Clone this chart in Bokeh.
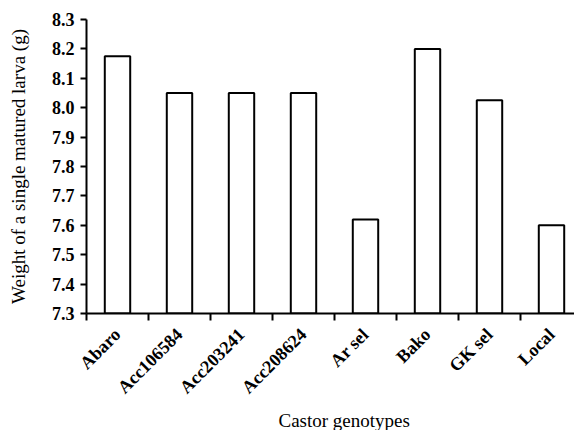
import math
from bokeh.plotting import figure
from bokeh.models import Range1d, FixedTicker, PrintfTickFormatter, ColumnDataSource, Title
from bokeh.embed import file_html
from bokeh.resources import INLINE

categories = ["Abaro", "Acc106584", "Acc203241", "Acc208624", "Ar sel", "Bako", "GK sel", "Local"]
weights = [8.175, 8.05, 8.05, 8.05, 7.62, 8.2, 8.025, 7.6]
y_ticks = [7.3, 7.4, 7.5, 7.6, 7.7, 7.8, 7.9, 8.0, 8.1, 8.2, 8.3]

x_pos = [i + 0.5 for i in range(len(categories))]
boundaries = [float(i) for i in range(len(categories))]

src = ColumnDataSource(dict(x=x_pos, top=weights, name=categories))

p = figure(width=574, height=430, output_backend="svg", toolbar_location=None,
           x_range=Range1d(0, 488 / 62), y_range=Range1d(7.3, 8.3),
           min_border_left=86, min_border_right=0, min_border_top=19, min_border_bottom=115)
p.outline_line_color = None
p.grid.visible = False
p.background_fill_color = "white"
p.border_fill_color = "white"

p.vbar(x="x", top="top", bottom=7.3, width=0.41, source=src,
       fill_color="white", line_color="black", line_width=2)

FONT = "Liberation Serif"

# x axis
xa = p.xaxis[0]
xa.ticker = FixedTicker(ticks=x_pos, minor_ticks=boundaries)
xa.major_label_overrides = {x: c for x, c in zip(x_pos, categories)}
xa.major_tick_out = 0
xa.major_tick_in = 0
xa.minor_tick_out = 7
xa.minor_tick_in = 0
xa.minor_tick_line_width = 2
xa.minor_tick_line_color = "black"
xa.axis_line_width = 2
xa.axis_line_color = "black"
xa.major_label_orientation = math.pi / 4
xa.major_label_text_font = FONT
xa.major_label_text_font_style = "bold"
xa.major_label_text_font_size = "18px"
xa.major_label_text_color = "black"
xa.major_label_standoff = 11

x_title = Title(text="Castor genotypes", align="left", offset=192, standoff=0,
                text_font=FONT, text_font_style="normal", text_font_size="19px",
                text_color="black")
p.add_layout(x_title, "below")

# y axis
ya = p.yaxis[0]
ya.ticker = FixedTicker(ticks=y_ticks, minor_ticks=[])
ya.formatter = PrintfTickFormatter(format="%.1f")
ya.major_tick_out = 6
ya.major_tick_in = 0
ya.major_tick_line_width = 2
ya.major_tick_line_color = "black"
ya.axis_line_width = 2
ya.axis_line_color = "black"
ya.major_label_text_font = FONT
ya.major_label_text_font_style = "bold"
ya.major_label_text_font_size = "18px"
ya.major_label_text_color = "black"
ya.major_label_standoff = 6
ya.axis_label = "Weight of a single matured larva (g)"
ya.axis_label_text_font = FONT
ya.axis_label_text_font_style = "normal"
ya.axis_label_text_font_size = "19px"
ya.axis_label_text_color = "black"
ya.axis_label_standoff = 20

with open("out.html", "w") as f:
    f.write(file_html(p, INLINE))
